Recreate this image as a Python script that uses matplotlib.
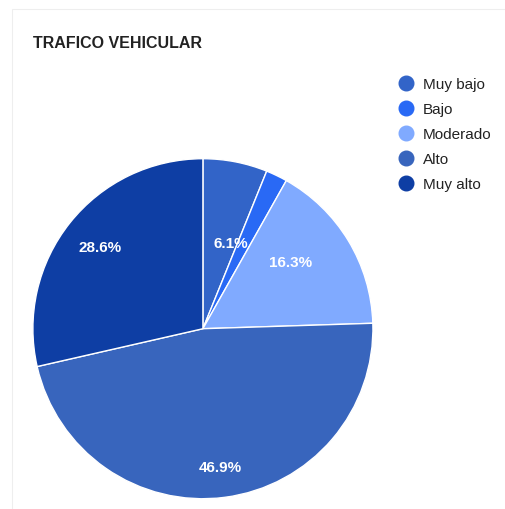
import matplotlib.pyplot as plt
import numpy as np
from matplotlib.lines import Line2D
from matplotlib.patches import Rectangle

labels = ['Muy bajo', 'Bajo', 'Moderado', 'Alto', 'Muy alto']
counts = [3, 1, 8, 23, 14]
colors = ['#3264c8', '#2969f5', '#80aaff', '#3865bd', '#0e3ea4']
# label placement inside each slice (radius, angle nudge in degrees)
label_r = [0.53, None, 0.65, 0.82, 0.77]
label_da = [-7, 0, 6, 0, 0]

plt.rcParams['font.family'] = ['Liberation Sans', 'DejaVu Sans']

fig = plt.figure(figsize=(5.06, 5.10), dpi=100)

# light card border
fig.patches.append(Rectangle((12 / 506, -0.1), 1.2, (500 / 510) + 0.1, transform=fig.transFigure,
                             fill=False, edgecolor='#eeeeee', lw=0.8))

ax = fig.add_axes([0.065, 0.020, 0.672, 0.667])
wedges, _ = ax.pie(counts, colors=colors, startangle=90, counterclock=False,
                   wedgeprops=dict(edgecolor='white', linewidth=1.0))
ax.set_xlim(-1, 1)
ax.set_ylim(-1, 1)
ax.set_aspect('equal')

total = sum(counts)
start = 90.0
for c, r, da in zip(counts, label_r, label_da):
    span = c / total * 360
    mid = np.deg2rad(start - span / 2 + da)
    start -= span
    if r is None:
        continue
    ax.text(r * np.cos(mid), r * np.sin(mid), f'{c / total * 100:.1f}%',
            ha='center', va='center', color='white', fontsize=11, fontweight='bold')

fig.text(33 / 506, 1 - 43 / 510, 'TRAFICO VEHICULAR', fontsize=11.5, fontweight='bold',
         color='#222222', ha='left', va='center')

handles = [Line2D([], [], marker='o', linestyle='', markersize=10.5, color=col) for col in colors]
leg = fig.legend(handles, labels, loc='upper left', bbox_to_anchor=(397 / 506, 1 - 78 / 510),
                 frameon=False, fontsize=11, labelspacing=0.72, handletextpad=0.5,
                 handlelength=1.2, borderaxespad=0, borderpad=0)
for t in leg.get_texts():
    t.set_color('#222222')

fig.savefig('out.png', dpi=100, facecolor='white')
